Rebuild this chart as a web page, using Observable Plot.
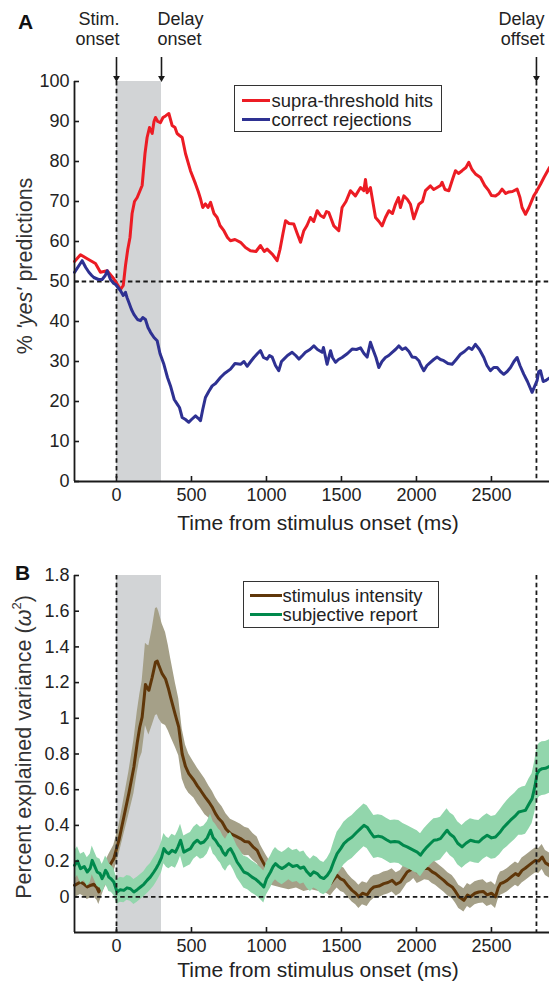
<!DOCTYPE html>
<html><head><meta charset="utf-8">
<script src="https://cdn.jsdelivr.net/npm/d3@7"></script>
<script src="https://cdn.jsdelivr.net/npm/@observablehq/plot@0.6"></script>
<style>
body{margin:0;background:#fff;font-family:"Liberation Sans",Arial,Helvetica,sans-serif;}
#wrap{position:relative;width:549px;height:981px;overflow:hidden;background:#fff;}
.panel{position:absolute;left:0;}
.legend{position:absolute;box-sizing:border-box;border:1.5px solid #333;background:#fff;color:#222;}
.row{position:absolute;height:19px;line-height:19px;white-space:nowrap;display:flex;align-items:center;font-size:18.4px;}
.swatch{display:inline-block;height:3px;}
</style></head>
<body><div id="wrap"></div>
<script>
// ---------- data ----------
const xTicks = [0, 500, 1000, 1500, 2000, 2500];
const yTicksA = [0, 10, 20, 30, 40, 50, 60, 70, 80, 90, 100];
const yTicksB = [0, 0.2, 0.4, 0.6, 0.8, 1, 1.2, 1.4, 1.6, 1.8];
const eventTimes = [0, 300, 2800];
const eventLabels = ["Stim.\nonset", "Delay\nonset", "Delay\noffset"];
const dashedTimes = [0, 2800];
const delayWindow = [{start: 0, end: 300}];
const seriesNamesA = ["supra-threshold hits", "correct rejections"];
const seriesNamesB = ["stimulus intensity", "subjective report"];

// Panel A: % 'yes' predictions  [time ms, value %]
const hits = [[-280,55],[-240,56.7],[-195,55.7],[-140,54.5],[-107,52.3],[-62,52.7],[-18,50.7],[27,48],[45,49],[60,54],[75,58],[90,61],[104,67],[120,70],[138,71],[160,73],[171,74],[190,82],[204,86],[220,88.5],[238,87],[250,90],[260,91],[275,90],[293,89.7],[310,91],[327,91.4],[349,92],[371,89],[390,88.5],[404,87],[420,86.5],[438,86],[460,82],[493,77.7],[527,74.4],[545,72.5],[560,70.7],[575,68.5],[593,69.4],[610,68.5],[627,69.8],[650,67],[671,66],[690,64],[716,62.7],[740,61],[760,60.2],[790,60.5],[827,59.8],[860,58.5],[893,57.7],[930,57.5],[960,59],[985,57.5],[1004,58.1],[1040,56.8],[1071,55.2],[1090,58],[1110,62],[1127,65.2],[1150,64.5],[1182,64.4],[1205,62],[1227,59.8],[1249,62.7],[1270,64],[1293,66],[1315,65],[1338,67.7],[1360,66.5],[1382,66],[1400,67.5],[1416,67.2],[1449,63.9],[1482,62.7],[1504,68.5],[1530,70],[1560,72.7],[1593,71.4],[1627,73.5],[1649,72.7],[1660,75.5],[1671,72.2],[1693,73.5],[1727,66],[1750,65],[1771,63.9],[1793,66],[1816,67.7],[1840,67],[1860,69.3],[1880,71],[1893,68.5],[1916,71.4],[1940,70.5],[1960,69.3],[1982,65.7],[2016,69.3],[2040,70],[2060,72.7],[2093,73.9],[2115,73],[2138,73.5],[2160,74],[2171,74.8],[2190,73],[2216,72.7],[2240,75.5],[2260,77.7],[2280,77],[2304,77.7],[2330,78.5],[2349,79.8],[2370,78],[2393,76.9],[2427,76],[2455,74],[2482,72.7],[2500,71.5],[2527,71.4],[2550,72],[2571,73.1],[2595,72],[2616,72.4],[2640,72.5],[2671,73.1],[2690,71],[2704,68.5],[2727,66.8],[2750,68.5],[2782,71.4],[2800,72.5],[2827,74.3],[2850,76],[2887,78.5]];
const rejections = [[-280,52.3],[-250,54],[-229,55.2],[-205,53.5],[-184,52.3],[-165,51.5],[-151,51],[-120,50.5],[-96,50.5],[-75,51.5],[-62,52.7],[-40,50.5],[-18,49.5],[-7,49.3],[10,48.5],[27,47.7],[45,46.5],[60,47.3],[70,46],[82,44.8],[100,43],[116,41.8],[140,40.5],[160,40.2],[175,41],[193,40.5],[210,38.5],[227,37.3],[250,36],[271,35.2],[290,32],[316,29.3],[340,26],[360,23.9],[385,20.5],[404,19.4],[420,18.5],[438,16],[460,15.5],[482,14.8],[500,15.5],[527,16.4],[545,15.8],[560,15.2],[575,18],[593,21],[615,22.5],[638,23.9],[660,24.5],[693,26],[720,27],[760,28.1],[790,29.5],[827,29.3],[850,30],[871,28.8],[895,30],[916,31],[940,32],[960,32.7],[980,31],[1004,30.6],[1020,31.5],[1038,31.1],[1060,29],[1082,27.7],[1100,30],[1116,30.6],[1140,31.5],[1171,32.3],[1195,31.5],[1216,30.6],[1240,31.5],[1260,32.3],[1290,33],[1316,33.9],[1340,33],[1371,32.3],[1380,33.5],[1404,29.3],[1427,32.7],[1440,31],[1460,29.8],[1480,30.5],[1504,31],[1540,32],[1571,33.1],[1600,33],[1627,33.4],[1650,32],[1671,31.1],[1693,34.8],[1710,33],[1730,31],[1749,28.5],[1770,30],[1793,31],[1815,31.5],[1838,32.3],[1860,33],[1882,33.9],[1905,33],[1927,33.4],[1950,32.5],[1971,31.1],[1995,31],[2016,30.2],[2030,29],[2049,27.7],[2070,29],[2093,29.8],[2115,30.5],[2138,31.1],[2160,30.5],[2182,30.2],[2210,29.5],[2238,29.3],[2265,30.5],[2293,31.8],[2320,32.5],[2349,33.5],[2370,33],[2393,34.3],[2420,33],[2449,31],[2470,29],[2493,27.7],[2515,28.5],[2538,28.5],[2560,27.5],[2582,26.8],[2605,27.5],[2627,28.5],[2650,30],[2671,31],[2690,29],[2716,26.8],[2740,25],[2771,22.3],[2790,24],[2804,25.2],[2815,27.5],[2827,27.7],[2845,25],[2860,25.2],[2887,25.9]];

// Panel B: explained variance  [time ms, mean, s.e.m.]
const intensity = [[-280,0.064,0.07],[-240,0.083,0.07],[-215,0.07,0.07],[-195,0.055,0.07],[-170,0.065,0.07],[-151,0.07,0.07],[-130,0.05,0.07],[-118,0.027,0.07],[-100,0.07,0.07],[-84,0.11,0.07],[-51,0.167,0.07],[-18,0.214,0.075],[16,0.316,0.08],[49,0.447,0.1],[82,0.578,0.12],[116,0.727,0.15],[138,0.862,0.17],[155,0.95,0.18],[171,1.007,0.2],[185,1.12,0.22],[193,1.19,0.23],[205,1.17,0.24],[216,1.157,0.25],[238,1.23,0.27],[260,1.315,0.3],[272,1.32,0.3],[282,1.297,0.3],[304,1.25,0.28],[327,1.22,0.26],[345,1.17,0.24],[360,1.12,0.22],[393,1.017,0.18],[415,0.95,0.16],[438,0.8,0.14],[460,0.73,0.12],[482,0.69,0.11],[516,0.653,0.1],[540,0.62,0.1],[560,0.597,0.1],[590,0.56,0.1],[616,0.531,0.09],[640,0.5,0.09],[660,0.466,0.09],[680,0.44,0.09],[704,0.419,0.085],[730,0.38,0.085],[760,0.354,0.08],[795,0.34,0.08],[827,0.326,0.08],[855,0.31,0.08],[882,0.307,0.075],[910,0.28,0.075],[938,0.26,0.075],[960,0.22,0.07],[982,0.186,0.07],[1000,0.16,0.07],[1016,0.139,0.07],[1050,0.13,0.07],[1100,0.12,0.07],[1150,0.11,0.07],[1200,0.12,0.07],[1250,0.1,0.07],[1300,0.11,0.07],[1350,0.1,0.07],[1400,0.09,0.07],[1427,0.074,0.07],[1450,0.1,0.07],[1471,0.12,0.07],[1495,0.1,0.07],[1516,0.092,0.07],[1545,0.06,0.065],[1571,0.036,0.065],[1595,0.02,0.065],[1616,0,0.065],[1640,0.02,0.065],[1671,0.011,0.065],[1695,0.04,0.065],[1716,0.055,0.065],[1750,0.06,0.065],[1782,0.074,0.065],[1810,0.08,0.065],[1838,0.092,0.065],[1865,0.07,0.065],[1893,0.083,0.065],[1915,0.11,0.065],[1938,0.139,0.065],[1960,0.15,0.065],[1982,0.167,0.065],[2005,0.14,0.065],[2027,0.148,0.065],[2055,0.16,0.065],[2082,0.157,0.065],[2105,0.14,0.065],[2127,0.13,0.065],[2155,0.11,0.065],[2182,0.092,0.065],[2210,0.07,0.065],[2238,0.055,0.065],[2260,0.03,0.065],[2282,0,0.065],[2300,-0.01,0.065],[2316,-0.02,0.065],[2340,0.01,0.065],[2360,0,0.065],[2390,0.02,0.065],[2416,0.027,0.065],[2445,0.03,0.065],[2471,0.011,0.065],[2500,0.02,0.065],[2527,0,0.065],[2545,0.05,0.065],[2560,0.074,0.065],[2580,0.08,0.065],[2604,0.092,0.065],[2630,0.11,0.065],[2660,0.13,0.065],[2680,0.12,0.065],[2704,0.148,0.07],[2725,0.16,0.07],[2749,0.176,0.07],[2770,0.19,0.07],[2793,0.204,0.07],[2815,0.2,0.07],[2838,0.223,0.07],[2860,0.19,0.07],[2887,0.176,0.07]];
const subjective = [[-280,0.176,0.08],[-260,0.2,0.08],[-240,0.158,0.08],[-215,0.17,0.08],[-195,0.139,0.08],[-175,0.16,0.08],[-162,0.204,0.08],[-145,0.17,0.08],[-129,0.139,0.08],[-110,0.13,0.08],[-96,0.102,0.08],[-85,0.12,0.08],[-73,0.148,0.08],[-60,0.13,0.08],[-51,0.11,0.08],[-35,0.1,0.075],[-18,0.083,0.075],[4,0.027,0.07],[25,0.04,0.07],[49,0.036,0.07],[70,0.05,0.07],[93,0.045,0.07],[116,0.027,0.07],[138,0.04,0.07],[160,0.055,0.07],[182,0.07,0.07],[204,0.092,0.075],[225,0.11,0.075],[249,0.139,0.08],[265,0.16,0.08],[282,0.186,0.08],[300,0.22,0.085],[316,0.27,0.085],[333,0.25,0.085],[349,0.242,0.085],[370,0.26,0.09],[393,0.25,0.09],[410,0.28,0.09],[427,0.317,0.09],[449,0.25,0.09],[470,0.26,0.09],[493,0.27,0.09],[515,0.3,0.09],[538,0.317,0.09],[560,0.3,0.09],[582,0.307,0.09],[605,0.33,0.09],[627,0.373,0.09],[645,0.33,0.09],[660,0.317,0.09],[680,0.29,0.09],[693,0.28,0.09],[710,0.25,0.09],[727,0.233,0.09],[745,0.26,0.09],[760,0.27,0.09],[780,0.24,0.09],[804,0.195,0.09],[825,0.17,0.09],[849,0.139,0.09],[875,0.13,0.09],[904,0.11,0.09],[925,0.1,0.09],[949,0.083,0.09],[965,0.07,0.09],[982,0.055,0.09],[1000,0.1,0.09],[1027,0.139,0.09],[1045,0.17,0.09],[1060,0.186,0.09],[1080,0.17,0.09],[1104,0.158,0.09],[1125,0.17,0.09],[1149,0.186,0.09],[1175,0.17,0.09],[1204,0.176,0.09],[1225,0.16,0.09],[1249,0.167,0.09],[1270,0.14,0.09],[1293,0.12,0.09],[1315,0.14,0.09],[1338,0.13,0.09],[1360,0.11,0.09],[1382,0.102,0.09],[1405,0.12,0.095],[1427,0.148,0.1],[1450,0.2,0.11],[1471,0.242,0.12],[1495,0.27,0.12],[1516,0.298,0.12],[1545,0.32,0.12],[1571,0.335,0.12],[1600,0.36,0.12],[1627,0.382,0.12],[1650,0.4,0.12],[1671,0.39,0.12],[1695,0.36,0.12],[1716,0.335,0.12],[1745,0.34,0.12],[1771,0.335,0.12],[1800,0.32,0.12],[1827,0.307,0.12],[1855,0.31,0.12],[1882,0.307,0.12],[1910,0.29,0.12],[1938,0.28,0.12],[1960,0.27,0.12],[1982,0.26,0.12],[2005,0.25,0.12],[2027,0.233,0.12],[2050,0.26,0.12],[2071,0.28,0.12],[2095,0.3,0.12],[2116,0.317,0.12],[2140,0.32,0.12],[2160,0.326,0.12],[2182,0.35,0.12],[2204,0.373,0.12],[2225,0.35,0.12],[2249,0.335,0.12],[2275,0.3,0.12],[2304,0.28,0.12],[2330,0.3,0.12],[2360,0.317,0.12],[2390,0.31,0.12],[2416,0.307,0.12],[2445,0.33,0.12],[2471,0.345,0.12],[2500,0.33,0.12],[2527,0.335,0.12],[2555,0.36,0.125],[2582,0.39,0.125],[2605,0.41,0.13],[2627,0.429,0.13],[2655,0.45,0.13],[2682,0.475,0.13],[2705,0.48,0.135],[2727,0.485,0.135],[2750,0.52,0.14],[2771,0.55,0.14],[2790,0.62,0.145],[2804,0.69,0.15],[2820,0.71,0.15],[2838,0.718,0.15],[2860,0.72,0.15],[2887,0.73,0.15]];

// ---------- styling ----------
const xDomain = [-280, 2887];
const FONT = '"Liberation Sans", Arial, Helvetica, sans-serif';
const RED = "#ec1c24", BLUE = "#2e3192";
const BROWN = "#5f3609", BROWN_BAND = "#a5a088";
const GREEN = "#00894c", GREEN_BAND = "#92d6ac";
const SHADE = "#d2d4d6", INK = "#1a1a1a";
const DASH = "4.5,3.2";

const events = eventTimes.map((t, i) => ({t, label: eventLabels[i]}));
const wrap = document.getElementById("wrap");

function axesMarks(yTicks, yFmt, yMin) {
  return [
    Plot.axisX({ticks: xTicks, tickFormat: d => String(d), tickSize: -5, tickPadding: 12, label: null, fontSize: 18, stroke: INK, strokeWidth: 1.6}),
    Plot.axisY({ticks: yTicks, tickFormat: yFmt, tickSize: -5, tickPadding: 10, label: null, fontSize: 18, stroke: INK, strokeWidth: 1.6}),
    Plot.ruleX([xDomain[0]], {stroke: INK, strokeWidth: 1.8}),
    Plot.ruleY([yMin], {stroke: INK, strokeWidth: 1.8})
  ];
}

// ---------- Panel A ----------
const plotA = Plot.plot({
  width: 549, height: 540,
  marginLeft: 74, marginRight: 0, marginTop: 81, marginBottom: 59,
  style: {fontFamily: FONT, fontSize: "18px", color: "#222", background: "transparent", overflow: "visible"},
  x: {domain: xDomain},
  y: {domain: [0, 100]},
  marks: [
    Plot.rect(delayWindow, {x1: "start", x2: "end", fill: SHADE}),
    Plot.ruleY([50], {stroke: INK, strokeWidth: 1.8, strokeDasharray: DASH}),
    Plot.ruleX(dashedTimes, {stroke: INK, strokeWidth: 1.8, strokeDasharray: DASH}),
    Plot.line(hits, {x: d => d[0], y: d => d[1], stroke: RED, strokeWidth: 3, strokeLinejoin: "round"}),
    Plot.line(rejections, {x: d => d[0], y: d => d[1], stroke: BLUE, strokeWidth: 3, strokeLinejoin: "round"}),
    ...axesMarks(yTicksA, d => String(d), 0),
    // event arrows + labels
    Plot.ruleX(eventTimes, {y1: 106, y2: 101, stroke: INK, strokeWidth: 1.6}),
    Plot.dot(eventTimes, {x: d => d, y: 100.9, symbol: "triangle2", r: 3.3, rotate: 180, fill: INK, stroke: null}),
    Plot.text(events.filter((d, i) => i === 0), {x: "t", text: "label", frameAnchor: "top", dy: -71, lineAnchor: "top", lineHeight: 1.12, textAnchor: "end", dx: 3, fontSize: 18, fill: "#222"}),
    Plot.text(events.filter((d, i) => i === 1), {x: "t", text: "label", frameAnchor: "top", dy: -71, lineAnchor: "top", lineHeight: 1.12, textAnchor: "start", dx: -4, fontSize: 18, fill: "#222"}),
    Plot.text(events.filter((d, i) => i === 2), {x: "t", text: "label", frameAnchor: "top", dy: -71, lineAnchor: "top", lineHeight: 1.12, textAnchor: "end", dx: 8, fontSize: 18, fill: "#222"}),
    Plot.text(["A"], {frameAnchor: "top-left", dx: -49, dy: -59, textAnchor: "middle", lineAnchor: "middle", fontSize: 21, fontWeight: "bold", fill: "#111"}),
    Plot.text(["Time from stimulus onset (ms)"], {frameAnchor: "bottom", dx: 6, dy: 42, lineAnchor: "middle", fontSize: 21, fill: "#222"})
  ]
});

// ---------- Panel B ----------
const plotB = Plot.plot({
  width: 549, height: 441,
  marginLeft: 74, marginRight: 0, marginTop: 35, marginBottom: 49,
  style: {fontFamily: FONT, fontSize: "18px", color: "#222", background: "transparent", overflow: "visible"},
  x: {domain: xDomain},
  y: {domain: [-0.2, 1.8]},
  marks: [
    Plot.rect(delayWindow, {x1: "start", x2: "end", fill: SHADE}),
    Plot.areaY(intensity, {x: d => d[0], y1: d => d[1] - d[2], y2: d => d[1] + d[2], fill: BROWN_BAND}),
    Plot.line(intensity, {x: d => d[0], y: d => d[1], stroke: BROWN, strokeWidth: 3, strokeLinejoin: "round"}),
    Plot.areaY(subjective, {x: d => d[0], y1: d => d[1] - d[2], y2: d => d[1] + d[2], fill: GREEN_BAND}),
    Plot.line(subjective, {x: d => d[0], y: d => d[1], stroke: GREEN, strokeWidth: 3, strokeLinejoin: "round"}),
    Plot.ruleY([0], {stroke: INK, strokeWidth: 1.8, strokeDasharray: DASH}),
    Plot.ruleX(dashedTimes, {stroke: INK, strokeWidth: 1.8, strokeDasharray: DASH}),
    ...axesMarks(yTicksB, d => String(+d.toFixed(1)), -0.2),
    Plot.text(["B"], {frameAnchor: "top-left", dx: -52, dy: -2, textAnchor: "middle", lineAnchor: "middle", fontSize: 21, fontWeight: "bold", fill: "#111"}),
    Plot.text(["Time from stimulus onset (ms)"], {frameAnchor: "bottom", dx: 6, dy: 38, lineAnchor: "middle", fontSize: 21, fill: "#222"})
  ]
});

function place(svg, top) {
  const d = document.createElement("div");
  d.className = "panel";
  d.style.top = top + "px";
  d.appendChild(svg);
  wrap.appendChild(d);
}
place(plotA, 0);
place(plotB, 540);

// rotated y-axis titles (with italic parts)
{
  const t = d3.select(plotA).append("text")
    .attr("transform", "translate(25,266) rotate(-90)")
    .attr("text-anchor", "middle").attr("dominant-baseline", "central")
    .attr("font-family", FONT).attr("font-size", 21.5).attr("fill", "#333");
  t.append("tspan").text("% ");
  t.append("tspan").attr("font-style", "italic").text("'yes'");
  t.append("tspan").text(" predictions");
}
{
  const t = d3.select(plotB).append("text")
    .attr("transform", "translate(24,207) rotate(-90)")
    .attr("text-anchor", "middle").attr("dominant-baseline", "central")
    .attr("font-family", FONT).attr("font-size", 21.5).attr("fill", "#333");
  t.append("tspan").text("Percent explained variance (");
  t.append("tspan").attr("font-style", "italic").text("ω");
  t.append("tspan").attr("font-size", 13).attr("dy", -8).text("2");
  t.append("tspan").attr("dy", 8).text(")");
}

// legends
function legend(names, colors, box, rowTops, padLeft, swatchW, gap) {
  const el = document.createElement("div");
  el.className = "legend";
  Object.assign(el.style, {left: box[0] + "px", top: box[1] + "px", width: box[2] + "px", height: box[3] + "px"});
  names.forEach((n, i) => {
    const r = document.createElement("div");
    r.className = "row";
    r.style.top = rowTops[i] + "px";
    r.style.left = padLeft + "px";
    const s = document.createElement("span");
    s.className = "swatch";
    s.style.width = swatchW + "px";
    s.style.background = colors[i];
    s.style.marginRight = gap + "px";
    r.appendChild(s);
    r.appendChild(document.createTextNode(n));
    el.appendChild(r);
  });
  wrap.appendChild(el);
}
legend(seriesNamesA, [RED, BLUE], [234, 85, 208, 47], [5, 24], 6.5, 28, 2);
legend(seriesNamesB, [BROWN, GREEN], [243, 581, 196, 47], [4, 23], 5.5, 32, 1);
</script>
</body></html>
